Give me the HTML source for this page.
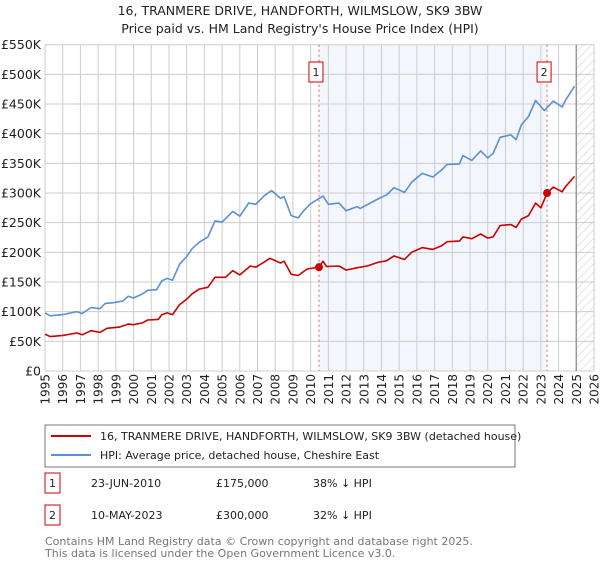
<!DOCTYPE html>
<html><head><meta charset="utf-8"><style>
body{margin:0;background:#fff;font-family:"DejaVu Sans","Liberation Sans",sans-serif;}
svg text{font-family:"DejaVu Sans","Liberation Sans",sans-serif;}
</style></head><body>
<svg id="chart" width="600" height="560" xmlns="http://www.w3.org/2000/svg">
<defs><pattern id="hatch" width="6" height="6" patternUnits="userSpaceOnUse" patternTransform="rotate(45)"><line x1="0" y1="0" x2="0" y2="6" stroke="#ccc" stroke-width="1"/></pattern></defs>
<text x="300" y="15" text-anchor="middle" font-size="12.5" fill="#222">16, TRANMERE DRIVE, HANDFORTH, WILMSLOW, SK9 3BW</text>
<text x="300" y="33" text-anchor="middle" font-size="12.5" fill="#222">Price paid vs. HM Land Registry's House Price Index (HPI)</text>
<g id="plot"></g>
<rect x="45" y="425" width="470" height="42" fill="#fff" stroke="#777"/>
<line x1="51" y1="436" x2="91" y2="436" stroke="#cc0000" stroke-width="2"/>
<text x="100" y="440" font-size="11" fill="#222">16, TRANMERE DRIVE, HANDFORTH, WILMSLOW, SK9 3BW (detached house)</text>
<line x1="51" y1="455" x2="91" y2="455" stroke="#5b8fd6" stroke-width="2"/>
<text x="100" y="459" font-size="11" fill="#222">HPI: Average price, detached house, Cheshire East</text>
<rect x="45" y="473" width="15" height="20" fill="#fff" stroke="#cc0000"/>
<text x="52.5" y="487" text-anchor="middle" font-size="11" fill="#222">1</text>
<text x="91" y="487" font-size="11" fill="#222">23-JUN-2010</text>
<text x="216" y="487" font-size="11" fill="#222">£175,000</text>
<text x="313" y="487" font-size="11" fill="#222">38% ↓ HPI</text>
<rect x="45" y="505" width="15" height="20" fill="#fff" stroke="#cc0000"/>
<text x="52.5" y="519" text-anchor="middle" font-size="11" fill="#222">2</text>
<text x="91" y="519" font-size="11" fill="#222">10-MAY-2023</text>
<text x="216" y="519" font-size="11" fill="#222">£300,000</text>
<text x="313" y="519" font-size="11" fill="#222">32% ↓ HPI</text>
<text x="45" y="545" font-size="11" fill="#777">Contains HM Land Registry data © Crown copyright and database right 2025.</text>
<text x="45" y="557" font-size="11" fill="#777">This data is licensed under the Open Government Licence v3.0.</text>
</svg>
<script>
const hpiYears=[1995,1995.3,1996,1996.8,1997.1,1997.6,1998.1,1998.4,1998.8,1999.4,1999.7,2000,2000.5,2000.8,2001.3,2001.6,2001.9,2002.2,2002.6,2003,2003.3,2003.7,2004.2,2004.6,2005,2005.6,2006,2006.5,2006.9,2007.4,2007.8,2008.3,2008.5,2008.9,2009.3,2009.6,2010,2010.7,2011,2011.6,2012,2012.6,2012.8,2013.8,2014.3,2014.7,2015.3,2015.7,2016.3,2016.9,2017.4,2017.7,2018.4,2018.6,2019.1,2019.6,2020,2020.3,2020.7,2021.3,2021.6,2021.9,2022.3,2022.7,2023.2,2023.7,2024.2,2024.4,2024.9];
const hpiValues=[98,93,95,100,97,107,105,114,115,118,126,123,130,136,137,152,156,153,180,193,206,217,226,253,251,269,261,283,281,296,304,291,294,262,258,270,282,295,281,283,270,277,274,290,297,309,301,318,333,327,339,348,349,363,355,371,359,367,394,398,390,415,429,456,439,455,445,457,480];
const propYears=[1995,1995.3,1996,1996.8,1997.1,1997.6,1998.1,1998.5,1999.2,1999.7,2000,2000.5,2000.8,2001.4,2001.6,2001.9,2002.2,2002.6,2003,2003.3,2003.7,2004.2,2004.6,2005.2,2005.6,2006,2006.6,2006.9,2007.4,2007.7,2008.3,2008.5,2008.9,2009.3,2009.8,2010.47,2010.7,2010.9,2011.6,2012,2012.6,2013.2,2013.8,2014.3,2014.7,2015.3,2015.7,2016.3,2016.9,2017.4,2017.7,2018.4,2018.6,2019.1,2019.6,2020,2020.3,2020.7,2021.3,2021.6,2021.9,2022.3,2022.7,2023.0,2023.35,2023.7,2024.2,2024.4,2024.9];
const propValues=[62,58,60,64,61,68,65,72,74,79,78,81,86,87,95,98,95,112,121,130,138,141,158,158,169,162,177,175,184,190,182,185,163,161,172,175,185,176,177,170,174,177,183,186,194,188,200,208,205,211,218,219,226,223,231,224,226,245,247,242,256,262,283,275,300,310,302,311,328];
const saleYears=[2010.47,2023.35];
const saleValues=[175,300];
const saleLabels=["1","2"];
const yTicks=[0,50,100,150,200,250,300,350,400,450,500,550];
const xTicks=[1995,1996,1997,1998,1999,2000,2001,2002,2003,2004,2005,2006,2007,2008,2009,2010,2011,2012,2013,2014,2015,2016,2017,2018,2019,2020,2021,2022,2023,2024,2025,2026];
const X0=45,X1=594,Y0=371,Y1=44.7;
const xs=y=>X0+(y-1995)/31*(X1-X0);
const ys=v=>Y0-v/550*(Y0-Y1);
const NS="http://www.w3.org/2000/svg";
const g=document.getElementById('plot');
function mk(t,a){const e=document.createElementNS(NS,t);for(const k in a)e.setAttribute(k,a[k]);g.appendChild(e);return e;}
let r=mk('rect',{x:xs(saleYears[0]),y:Y1,width:xs(saleYears[1])-xs(saleYears[0]),height:Y0-Y1,fill:'#f3f7fd'});


r=mk('rect',{x:xs(2025),y:Y1,width:X1-xs(2025),height:Y0-Y1,fill:'url(#hatch)'});


yTicks.forEach(v=>{
 const l=mk('line',{x1:X0,x2:X1,y1:ys(v),y2:ys(v),stroke:'#ccc','stroke-width':1});
 
 
 const t=mk('text',{x:X0-4,y:ys(v)+4.5,'text-anchor':'end','font-size':12.5,fill:'#222'});
 t.textContent=v===0?'£0':'£'+v+'K';
 
 
});
xTicks.forEach(y=>{
 const l=mk('line',{x1:xs(y),x2:xs(y),y1:Y1,y2:Y0,stroke:'#ccc','stroke-width':1});
 
 
 const t=mk('text',{x:0,y:0,'text-anchor':'end','font-size':12,fill:'#222',transform:`translate(${xs(y)+4.5},374) rotate(-90)`});
 t.textContent=y;
 
 
});
const nl=mk('line',{x1:xs(2025),x2:xs(2025),y1:Y1,y2:Y0,stroke:'#999','stroke-width':1.5});


saleYears.forEach((y,i)=>{
 const l=mk('line',{x1:xs(y),x2:xs(y),y1:Y1,y2:Y0,stroke:'#e06060','stroke-width':1,'stroke-dasharray':'2,3'});
 
 
 const b=mk('rect',{x:xs(y)-10,y:62,width:14,height:20,fill:'#fff',stroke:'#cc0000'});
 
 
 const t=mk('text',{x:xs(y)-3,y:76,'text-anchor':'middle','font-size':11,fill:'#222'});
 t.textContent=saleLabels[i];
 
 
});
function path(xa,va,c,name){
 const d=xa.map((x,i)=>(i?'L':'M')+xs(x).toFixed(1)+','+ys(va[i]).toFixed(1)).join('');
 const p=mk('path',{d:d,fill:'none',stroke:c,'stroke-width':1.6,'stroke-linejoin':'round'});
 
 
}
path(hpiYears,hpiValues,'#5b8fd6','hpi-line');
path(propYears,propValues,'#cc0000','property-price-line');
saleYears.forEach((y,i)=>{
 const c=mk('circle',{cx:xs(y),cy:ys(saleValues[i]),r:4,fill:'#cc0000'});
 
 
});
</script>
</body></html>
